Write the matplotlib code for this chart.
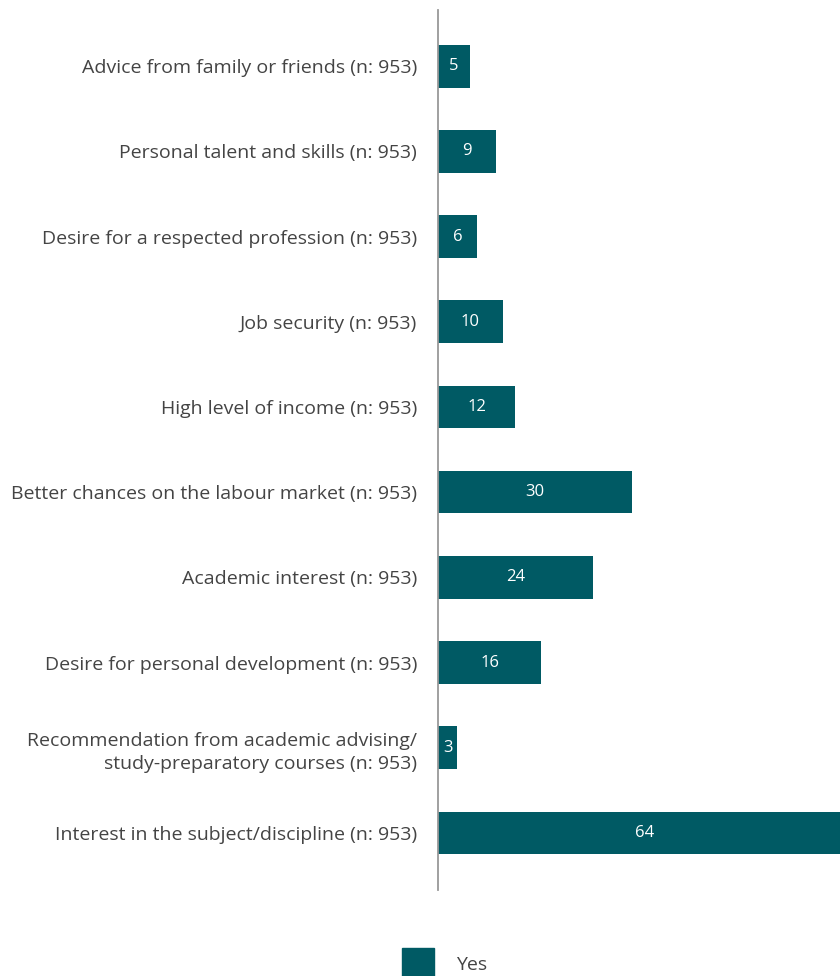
import matplotlib
matplotlib.use("Agg")
import matplotlib.pyplot as plt
from matplotlib.patches import Rectangle

# survey answers, top to bottom
reasons = [
    "Advice from family or friends (n: 953)",
    "Personal talent and skills (n: 953)",
    "Desire for a respected profession (n: 953)",
    "Job security (n: 953)",
    "High level of income (n: 953)",
    "Better chances on the labour market (n: 953)",
    "Academic interest (n: 953)",
    "Desire for personal development (n: 953)",
    "Recommendation from academic advising/\nstudy-preparatory courses (n: 953)",
    "Interest in the subject/discipline (n: 953)",
]
yes_share = [5, 9, 6, 10, 12, 30, 24, 16, 3, 64]

teal = "#005a64"
grey = "#444444"

plt.rcParams["font.family"] = ["Open Sans", "DejaVu Sans"]

fig = plt.figure(figsize=(8.4, 9.76), dpi=100)
ax = fig.add_axes([438 / 840, 1 - 890 / 976, 1 - 438 / 840, 880 / 976])

rows = list(range(len(reasons)))
bars = ax.barh(rows, yes_share, height=0.5, color=teal)

for y, v in zip(rows, yes_share):
    ax.text(v / 2, y, str(v), ha="center", va="center", color="white", fontsize=12)

ax.set_ylim(9.67, -0.66)
ax.set_xlim(0, 62.3)
ax.set_yticks(rows)
ax.set_yticklabels(reasons, fontsize=14, color=grey, linespacing=1.4)
ax.tick_params(axis="y", length=0, pad=15)
ax.set_xticks([])

for side in ["top", "right", "bottom"]:
    ax.spines[side].set_visible(False)
ax.spines["left"].set_color("#999999")
ax.spines["left"].set_linewidth(1.3)

# legend drawn by hand below the plot
fig.patches.append(Rectangle((402 / 840, 0), 32 / 840, 28 / 976,
                             transform=fig.transFigure, color=teal))
fig.text(456 / 840, 1 - 965 / 976, "Yes", fontsize=14, color=grey, va="center")

fig.savefig("out.png", dpi=100)
